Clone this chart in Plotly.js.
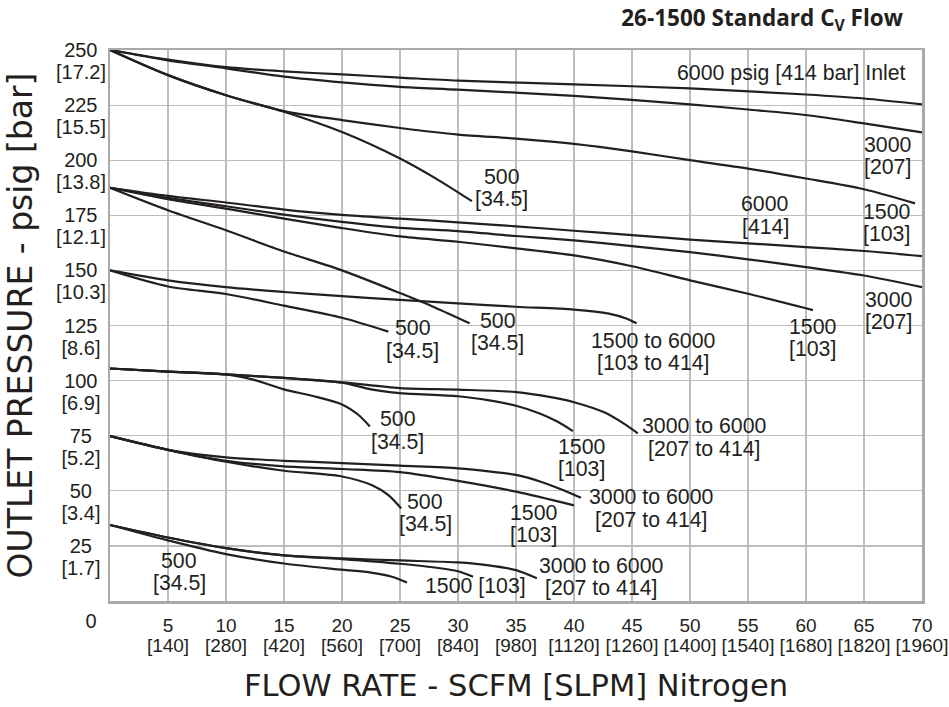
<!DOCTYPE html>
<html>
<head>
<meta charset="utf-8">
<script src="https://cdn.plot.ly/plotly-3.0.1.min.js"></script>
<style>html,body{margin:0;padding:0;background:#fff}#chart{width:949px;height:707px}</style>
</head>
<body>
<div id="chart"></div>
<script>
// ---------- axis tick labels ----------
const xTickVals = [5, 10, 15, 20, 25, 30, 35, 40, 45, 50, 55, 60, 65, 70];
const xTickScfm = ['5', '10', '15', '20', '25', '30', '35', '40', '45', '50', '55', '60', '65', '70'];
const xTickSlpm = ['[140]', '[280]', '[420]', '[560]', '[700]', '[840]', '[980]', '[1120]', '[1260]', '[1400]', '[1540]', '[1680]', '[1820]', '[1960]'];
const xOriginVal = [0];
const xOriginText = ['0'];
const yTickVals = [25, 50, 75, 100, 125, 150, 175, 200, 225, 250];
const yTickPsig = ['25', '50', '75', '100', '125', '150', '175', '200', '225', '250'];
const yTickBar = ['[1.7]', '[3.4]', '[5.2]', '[6.9]', '[8.6]', '[10.3]', '[12.1]', '[13.8]', '[15.5]', '[17.2]'];

// ---------- curves: outlet set 250 psig ----------
const a6000X = [0, 5, 10, 15, 20, 25, 30, 40, 50, 60, 65, 70];
const a6000Y = [250, 245.6, 242.2, 240.3, 238.9, 237.5, 236.1, 234.4, 232.6, 229.8, 228.0, 225.3];
const a3000X = [0, 5, 10, 15, 20, 25, 30, 40, 50, 55, 60, 65, 70];
const a3000Y = [250, 245.3, 241.7, 237.9, 235.3, 233.3, 232.0, 229.2, 225.3, 223.0, 220.5, 216.7, 212.6];
const a1500X = [0, 5, 10, 15, 20, 25, 30, 35, 40, 45, 50, 55, 60, 65, 69.4];
const a1500Y = [250, 238.6, 229.5, 222.3, 218.2, 214.6, 211.6, 209.8, 207.4, 204.0, 200.0, 196.2, 191.7, 186.8, 180.4];
const a500X = [0, 5, 10, 15, 20, 25, 28, 31.2];
const a500Y = [250, 238.6, 229.5, 222.0, 212.8, 200.8, 192.0, 181.4];

// ---------- outlet set 187.5 psig ----------
const b6000X = [0, 5, 10, 15, 20, 25, 30, 35, 40, 45, 50, 60, 65, 70];
const b6000Y = [187.5, 183.8, 180.8, 177.6, 175.2, 173.5, 171.8, 170.0, 168.0, 166.0, 164.0, 160.6, 158.8, 156.5];
const b3000X = [0, 5, 10, 15, 20, 25, 30, 35, 40, 45, 50, 55, 60, 65, 70];
const b3000Y = [187.5, 182.9, 179.1, 175.3, 172.0, 169.3, 167.8, 165.6, 163.6, 161.0, 158.3, 155.0, 151.5, 147.7, 142.4];
const b1500X = [0, 5, 10, 15, 20, 25, 30, 35, 40, 45, 50, 55, 60.6];
const b1500Y = [187.5, 182.3, 178.0, 173.5, 169.2, 165.4, 163.0, 160.0, 156.8, 151.9, 145.5, 139.4, 132.0];
const b500X = [0, 5, 10, 15, 20, 25, 28, 31];
const b500Y = [187.5, 177.3, 168.2, 158.6, 150.0, 139.7, 133.2, 126.0];

// ---------- outlet set 150 psig ----------
const c1500X = [0, 5, 10, 15, 20, 25, 30, 35, 40, 43, 44.5, 45.4];
const c1500Y = [150, 145.5, 142.4, 140.2, 138.3, 136.6, 135.0, 133.5, 132.2, 130.4, 128.2, 126.0];
const c500X = [0, 5, 10, 15, 20, 24];
const c500Y = [150, 142.7, 139.3, 134.0, 128.5, 122.2];

// ---------- outlet set 105.5 psig ----------
const d3000X = [0, 5, 10, 15, 20, 25, 30, 35, 38, 40, 42.6, 44.3, 45.5];
const d3000Y = [105.5, 104.1, 102.8, 101.2, 99.2, 96.6, 95.9, 94.8, 92.5, 90.2, 85.6, 80.5, 76.1];
const d1500X = [0, 5, 10, 15, 20, 22.5, 25, 30, 32.7, 35, 37.1, 38.6, 39.9];
const d1500Y = [105.5, 104.1, 102.8, 101.2, 99.1, 96.0, 94.3, 92.9, 91.0, 88.6, 85.0, 81.3, 77.1];
const d500X = [0, 5, 10, 12.5, 15, 17.5, 20, 21.4, 22.4];
const d500Y = [105.5, 104.1, 102.8, 100.2, 96.0, 93.0, 89.2, 84.5, 79.2];

// ---------- outlet set 75 psig ----------
const e3000X = [0, 5, 10, 15, 20, 25, 30, 33, 35, 37.2, 39.2, 40.6];
const e3000Y = [74.8, 68.6, 65.2, 63.6, 62.6, 61.4, 60.2, 58.6, 57.2, 54.0, 50.0, 46.8];
const e1500X = [0, 5, 10, 15, 20, 25, 30, 35, 40];
const e1500Y = [74.8, 68.6, 63.6, 61.1, 59.9, 58.5, 54.5, 49.6, 43.4];
const e500X = [0, 5, 10, 15, 20, 22.6, 24, 25.1];
const e500Y = [74.8, 68.6, 63.2, 59.1, 56.5, 52.5, 48.0, 42.0];

// ---------- outlet set 34.5 psig ----------
const f3000X = [0, 5, 10, 15, 20, 25, 30, 32.5, 35, 36.8];
const f3000Y = [34.5, 28.8, 24.0, 20.7, 19.3, 18.4, 17.5, 16.3, 14.0, 10.3];
const f1500X = [0, 5, 10, 15, 20, 25, 28, 30, 31.3];
const f1500Y = [34.5, 28.8, 24.0, 20.7, 19.0, 16.9, 15.2, 13.5, 11.0];
const f500X = [0, 5, 10, 15, 20, 22.5, 24.3, 25.6];
const f500Y = [34.5, 27.5, 21.3, 17.0, 14.2, 12.9, 11.0, 8.4];

// ---------- curve label texts ----------
const labelLine1 = ['6000 psig [414 bar] Inlet', '3000', '1500', '500', '6000', '3000', '1500', '500',
  '1500 to 6000', '500', '500', '1500', '3000 to 6000', '500', '1500', '3000 to 6000', '500', '1500 [103]', '3000 to 6000'];
const labelLine2 = ['', '[207]', '[103]', '[34.5]', '[414]', '[207]', '[103]', '[34.5]',
  '[103 to 414]', '[34.5]', '[34.5]', '[103]', '[207 to 414]', '[34.5]', '[103]', '[207 to 414]', '[34.5]', '', '[207 to 414]'];

// ---------- label anchor positions (kept apart from the data) ----------
const labelPosX = [58.79, 67.05, 66.98, 33.78, 56.48, 67.12, 60.6, 33.42, 46.88, 26.09, 24.79, 40.68, 51.24, 27.16, 36.54, 46.7, 5.95, 31.52, 42.34];
const labelPosY = [239.4, 206.9, 176.6, 192.5, 180.1, 136.6, 124.5, 127.2, 118.1, 123.7, 82.4, 70.0, 79.4, 45.1, 40.1, 47.1, 18.3, 6.9, 16.0];

const curves = [
  [a6000X, a6000Y], [a3000X, a3000Y], [a1500X, a1500Y], [a500X, a500Y],
  [b6000X, b6000Y], [b3000X, b3000Y], [b1500X, b1500Y], [b500X, b500Y],
  [c1500X, c1500Y], [c500X, c500Y],
  [d3000X, d3000Y], [d1500X, d1500Y], [d500X, d500Y],
  [e3000X, e3000Y], [e1500X, e1500Y], [e500X, e500Y],
  [f3000X, f3000Y], [f1500X, f1500Y], [f500X, f500Y]
];

const ink = '#231f20';
const traces = curves.map(c => ({
  type: 'scatter', mode: 'lines', x: c[0], y: c[1],
  line: {color: ink, width: 2.2, shape: 'spline', smoothing: 0.8},
  hoverinfo: 'skip', showlegend: false
}));
// empty carriers so the overlaid label axes get drawn
[['x2', 'y'], ['x3', 'y'], ['x', 'y2']].forEach(p => traces.push({
  type: 'scatter', mode: 'lines', x: [], y: [], xaxis: p[0], yaxis: p[1], hoverinfo: 'skip', showlegend: false
}));

const tickFont = {family: 'Liberation Sans, Arial, sans-serif', size: 20, color: ink};
const tickFontX = {family: 'Liberation Sans, Arial, sans-serif', size: 19, color: ink};
const labelFont = {family: 'Liberation Sans, Arial, sans-serif', size: 21.3, color: ink};
const gridColor = '#bdbdbd';
const frameColor = '#a9a9a9';

const annotations = [];
labelLine1.forEach((t, i) => {
  annotations.push({xref: 'x', yref: 'y', x: labelPosX[i], y: labelPosY[i], text: t, showarrow: false,
    xanchor: 'center', yanchor: 'middle', font: labelFont});
  if (labelLine2[i]) {
    annotations.push({xref: 'x', yref: 'y', x: labelPosX[i], y: labelPosY[i], yshift: -22.5, text: labelLine2[i], showarrow: false,
      xanchor: 'center', yanchor: 'middle', font: labelFont});
  }
});

const nb = '\u00a0';
const thin = '\u2009';
const padNum = s => (s.length < 3 ? s + nb : s);
const padBar = s => (s.length < 6 ? s + nb : s);

const baseAxis = {showline: false, zeroline: false, ticks: '', fixedrange: true, automargin: false,
  ticklabeloverflow: 'allow', tickfont: tickFont};

const layout = {
  width: 949, height: 707,
  margin: {l: 110, r: 27.3, t: 50, b: 106, pad: 0},
  paper_bgcolor: '#ffffff', plot_bgcolor: '#ffffff',
  showlegend: false,
  title: {
    text: '26-1500 Standard C<sub>V</sub> Flow',
    font: {family: 'Open Sans, Noto Sans, sans-serif', size: 22.5, weight: 700, color: ink},
    xref: 'container', x: 903 / 949, xanchor: 'right',
    yref: 'container', y: 1 - 18 / 707, yanchor: 'middle'
  },
  xaxis: Object.assign({}, baseAxis, {
    range: [0, 70], tickvals: xTickVals, ticktext: xTickScfm, tickfont: tickFontX,
    showgrid: true, gridcolor: gridColor, gridwidth: 1.2,
    showline: true, mirror: true, linecolor: frameColor, linewidth: 2.5,
    ticklabelstandoff: 6,
    title: {text: 'FLOW RATE - SCFM [SLPM] Nitrogen', font: {family: 'DejaVu Sans', size: 30.5, color: ink}, standoff: 40}
  }),
  xaxis2: Object.assign({}, baseAxis, {
    overlaying: 'x', anchor: 'y', side: 'bottom', range: [0, 70], tickfont: tickFontX,
    tickvals: xTickVals, ticktext: xTickSlpm, showgrid: false, ticklabelstandoff: 31
  }),
  xaxis3: Object.assign({}, baseAxis, {
    overlaying: 'x', anchor: 'y', side: 'bottom', range: [0, 70],
    tickvals: xOriginVal, ticktext: xOriginText, showgrid: false, ticklabelstandoff: 6, ticklabelshift: -19
  }),
  yaxis: Object.assign({}, baseAxis, {
    range: [0, 250], tickvals: yTickVals, ticktext: yTickPsig.map(padNum),
    showgrid: true, gridcolor: gridColor, gridwidth: 1.2,
    showline: true, mirror: true, linecolor: frameColor, linewidth: 2.5,
    ticklabelstandoff: 6, ticklabelshift: -1.5,
    title: {text: 'OUTLET PRESSURE - psig [bar]' + nb + nb + thin, font: {family: 'DejaVu Sans', size: 33, color: ink}, standoff: 22}
  }),
  yaxis2: Object.assign({}, baseAxis, {
    overlaying: 'y', anchor: 'x', side: 'left', range: [0, 250],
    tickvals: yTickVals, ticktext: yTickBar.map(padBar), showgrid: false,
    ticklabelstandoff: 3, ticklabelshift: 22
  }),
  annotations: annotations
};

Plotly.newPlot('chart', traces, layout, {displayModeBar: false, staticPlot: true});
</script>
</body>
</html>
